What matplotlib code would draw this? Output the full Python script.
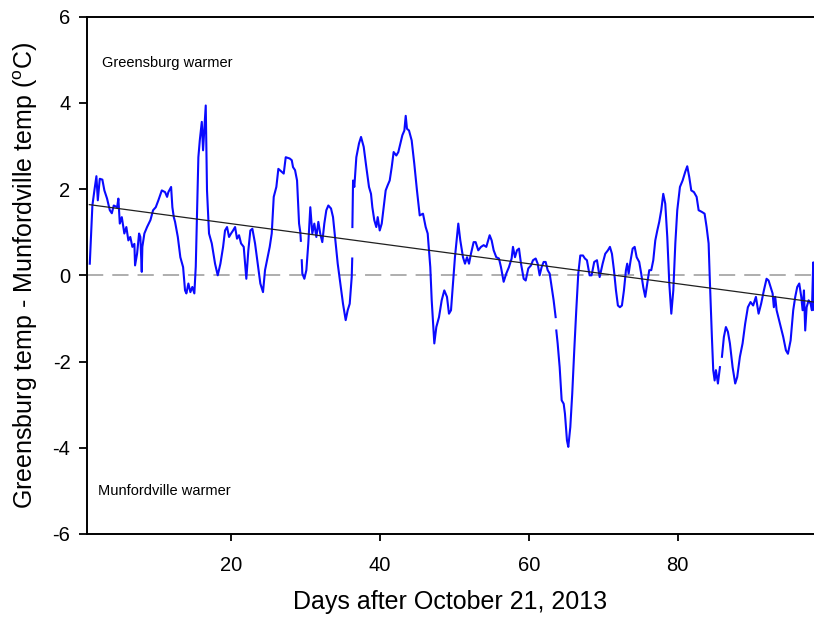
import matplotlib.pyplot as plt
import numpy as np

plt.rcParams['font.family'] = ['Liberation Sans', 'DejaVu Sans']
plt.rcParams['axes.unicode_minus'] = False

# days after Oct 21 2013 and temperature difference
days = [1.06, 1.41, 1.68, 1.95, 2.14, 2.40, 2.75, 3.02, 3.38, 3.75, 4.02, 4.28, 4.73, 4.90,
        5.09, 5.36, 5.70, 5.97, 6.24, 6.50, 6.78, 7.05, 7.14, 7.41, 7.68, 7.85, 8.04, 8.12,
        8.39, 8.75, 9.20, 9.56, 9.92, 10.27, 10.73, 11.17, 11.44, 11.61, 11.98, 12.15, 12.34,
        12.51, 12.88, 13.22, 13.59, 13.85, 14.03, 14.30, 14.57, 14.83, 15.10, 15.29, 15.64,
        15.83, 16.10, 16.27, 16.45, 16.63, 16.80, 17.07, 17.44, 17.88, 18.24, 18.60, 18.96,
        19.22, 19.49, 19.76, 20.03, 20.30, 20.57, 20.83, 21.10, 21.37, 21.73, 22.08, 22.35,
        22.62, 22.89, 23.25, 23.61, 23.96, 24.32, 24.59, 24.86, 25.22, 25.49, 25.76, 26.11,
        26.38, 26.83, 27.10, 27.37, 27.90, 28.18, 28.35, 28.62, 28.89, 29.16, 29.33, 29.40,
        29.45, 29.52, 29.60, 29.87, 30.14, 30.40, 30.67, 30.94, 31.21, 31.48, 31.75, 32.00,
        32.28, 32.55, 32.82, 33.09, 33.45, 33.72, 33.99, 34.35, 34.70, 35.06, 35.42, 35.69,
        35.96, 36.23, 36.30, 36.31, 36.32, 36.41, 36.58, 36.85, 37.21, 37.48, 37.84, 38.19,
        38.55, 38.82, 39.00, 39.26, 39.53, 39.72, 39.99, 40.26, 40.52, 40.79, 41.06, 41.33,
        41.60, 41.86, 42.22, 42.49, 42.76, 43.03, 43.30, 43.48, 43.65, 43.92, 44.28, 44.63,
        44.99, 45.36, 45.80, 46.16, 46.43, 46.78, 46.97, 47.32, 47.59, 47.95, 48.31, 48.66,
        49.02, 49.29, 49.56, 49.83, 50.09, 50.36, 50.54, 50.81, 51.17, 51.44, 51.71, 51.98,
        52.24, 52.60, 52.87, 53.22, 53.59, 53.95, 54.30, 54.75, 55.02, 55.29, 55.64, 56.00,
        56.27, 56.63, 56.98, 57.34, 57.70, 57.88, 58.15, 58.42, 58.69, 58.96, 59.32, 59.59,
        59.94, 60.30, 60.57, 60.93, 61.20, 61.46, 61.73, 62.00, 62.27, 62.54, 62.81, 63.08,
        63.34, 63.61, 63.65, 63.70, 63.88, 64.15, 64.42, 64.69, 64.86, 65.13, 65.31, 65.58,
        65.84, 66.11, 66.38, 66.65, 66.92, 67.28, 67.54, 67.81, 68.17, 68.44, 68.79, 69.16,
        69.52, 69.92, 70.27, 70.63, 70.90, 71.17, 71.44, 71.71, 71.97, 72.24, 72.51, 72.78,
        73.05, 73.22, 73.41, 73.68, 73.95, 74.22, 74.49, 74.83, 75.10, 75.37, 75.64, 75.91,
        76.18, 76.45, 76.72, 76.99, 77.26, 77.52, 77.79, 78.06, 78.33, 78.60, 78.87, 79.14,
        79.41, 79.68, 79.94, 80.30, 80.66, 81.01, 81.28, 81.55, 81.82, 82.18, 82.54, 82.81,
        83.25, 83.61, 83.88, 84.15, 84.33, 84.59, 84.77, 84.96, 85.13, 85.40, 85.67, 85.80,
        85.94, 86.20, 86.47, 86.74, 87.01, 87.37, 87.72, 87.99, 88.35, 88.71, 89.06, 89.42,
        89.78, 90.13, 90.50, 90.86, 91.20, 91.57, 91.93, 92.20, 92.47, 92.74, 92.91, 93.09,
        93.28, 93.72, 94.17, 94.53, 94.80, 95.16, 95.51, 95.78, 96.05, 96.32, 96.59, 96.77,
        96.95, 97.12, 97.31, 97.58, 97.85, 98.02, 98.20, 98.30]

temp_diff = [0.27, 1.62, 1.97, 2.30, 1.74, 2.24, 2.22, 1.97, 1.78, 1.51, 1.44, 1.62, 1.58, 1.78,
             1.20, 1.35, 0.97, 1.12, 0.81, 0.89, 0.66, 0.73, 0.23, 0.50, 0.97, 0.89, 0.08, 0.66,
             0.97, 1.12, 1.28, 1.51, 1.58, 1.74, 1.97, 1.93, 1.82, 1.93, 2.05, 1.58, 1.35,
             1.24, 0.89, 0.42, 0.19, -0.35, -0.42, -0.19, -0.39, -0.27, -0.42, 0.20, 2.74,
             3.13, 3.56, 2.90, 3.44, 3.94, 1.97, 0.97, 0.74, 0.27, 0.00, 0.27, 0.66,
             1.04, 1.12, 0.89, 0.97, 1.04, 1.12, 0.85, 0.93, 0.74, 0.66, -0.08, 0.58,
             1.04, 1.08, 0.74, 0.27, -0.19, -0.39, 0.12, 0.35, 0.66, 0.97, 1.82, 2.05,
             2.47, 2.40, 2.36, 2.74, 2.71, 2.67, 2.51, 2.44, 2.20, 1.20, 1.00, 0.80,
             np.nan, 0.35, 0.04, -0.08, 0.12, 0.74, 1.58, 0.97, 1.20, 0.89, 1.24, 0.97,
             0.77, 1.20, 1.51, 1.62, 1.55, 1.35, 0.89, 0.27, -0.19, -0.66, -1.04, -0.81,
             -0.66, -0.04, 0.39, np.nan, 1.12, 2.20, 2.05, 2.74, 3.06, 3.21, 2.98, 2.51,
             2.05, 1.89, 1.58, 1.28, 1.12, 1.35, 1.04, 1.20, 1.58, 1.97, 2.09, 2.20,
             2.51, 2.86, 2.78, 2.86, 3.06, 3.25, 3.36, 3.70, 3.40, 3.36, 3.13, 2.59,
             1.97, 1.39, 1.43, 1.12, 0.97, 0.19, -0.58, -1.58, -1.20, -0.97, -0.58, -0.35,
             -0.50, -0.89, -0.81, -0.19, 0.42, 0.89, 1.20, 0.81, 0.42, 0.27, 0.42, 0.27,
             0.50, 0.77, 0.77, 0.58, 0.66, 0.70, 0.66, 0.93, 0.81, 0.58, 0.42, 0.39,
             0.19, -0.15, 0.04, 0.19, 0.39, 0.66, 0.42, 0.58, 0.62, 0.27, -0.08, -0.12,
             0.16, 0.23, 0.35, 0.39, 0.27, 0.00, 0.19, 0.31, 0.31, 0.12, 0.04, -0.27,
             -0.58, -0.97, np.nan, -1.28, -1.58, -2.13, -2.90, -2.98, -3.21, -3.83, -3.98, -3.52,
             -2.74, -1.74, -0.81, 0.04, 0.46, 0.46, 0.39, 0.35, 0.00, 0.00, 0.31, 0.35,
             -0.04, 0.27, 0.50, 0.58, 0.66, 0.50, 0.12, -0.35, -0.70, -0.74, -0.70, -0.35,
             0.12, 0.27, 0.04, 0.35, 0.62, 0.66, 0.42, 0.31, 0.04, -0.27, -0.50, -0.19,
             0.12, 0.12, 0.35, 0.81, 1.04, 1.24, 1.51, 1.89, 1.66, 0.89, -0.19, -0.89,
             -0.35, 0.74, 1.51, 2.05, 2.20, 2.40, 2.53, 2.28, 1.97, 1.93, 1.82, 1.51,
             1.47, 1.43, 1.12, 0.74, -0.19, -1.43, -2.20, -2.44, -2.20, -2.51, -2.13, np.nan,
             -1.89, -1.43, -1.20, -1.31, -1.58, -2.13, -2.51, -2.36, -1.89, -1.58, -1.12, -0.74,
             -0.62, -0.70, -0.50, -0.89, -0.66, -0.35, -0.08, -0.12, -0.27, -0.42, -0.74, -0.50,
             -0.81, -1.12, -1.43, -1.74, -1.82, -1.51, -0.81, -0.50, -0.27, -0.19, -0.50, -0.81,
             -0.35, -1.28, -0.74, -0.58, -0.66, -0.81, 0.30, -0.80]

# regression line end points
fit_days = [1.0, 98.3]
fit_diff = [1.64, -0.62]

fig = plt.figure(figsize=(8.14, 6.18), dpi=100)
ax = fig.add_axes([0.107, 0.136, 0.893, 0.837])

ax.axhline(0, color='#a8a8a8', lw=1.3, dashes=(9, 5))
ax.plot(days, temp_diff, color='#0a0aff', lw=1.5)
ax.plot(fit_days, fit_diff, color='#202020', lw=0.9)

ax.text(2.67, 4.92, 'Greensburg warmer', fontsize=10.5, va='center')
ax.text(2.22, -5.0, 'Munfordville warmer', fontsize=10.5, va='center')

ax.set_xlim(0.7, 98.3)
ax.set_ylim(-6, 6)
ax.set_xticks([20, 40, 60, 80])
ax.set_yticks([-6, -4, -2, 0, 2, 4, 6])
ax.tick_params(direction='out', length=6, width=1.3, labelsize=14.5, pad=6)
ax.tick_params(axis='x', length=5, pad=11)
for s in ['left', 'bottom', 'top']:
    ax.spines[s].set_linewidth(1.4)
ax.spines['right'].set_visible(False)

ax.set_xlabel('Days after October 21, 2013', fontsize=18, labelpad=11)
ax.set_ylabel('Greensburg temp - Munfordville temp ($^{\\mathregular{o}}$C)', fontsize=18, labelpad=9)

fig.savefig('out.png', dpi=100)
